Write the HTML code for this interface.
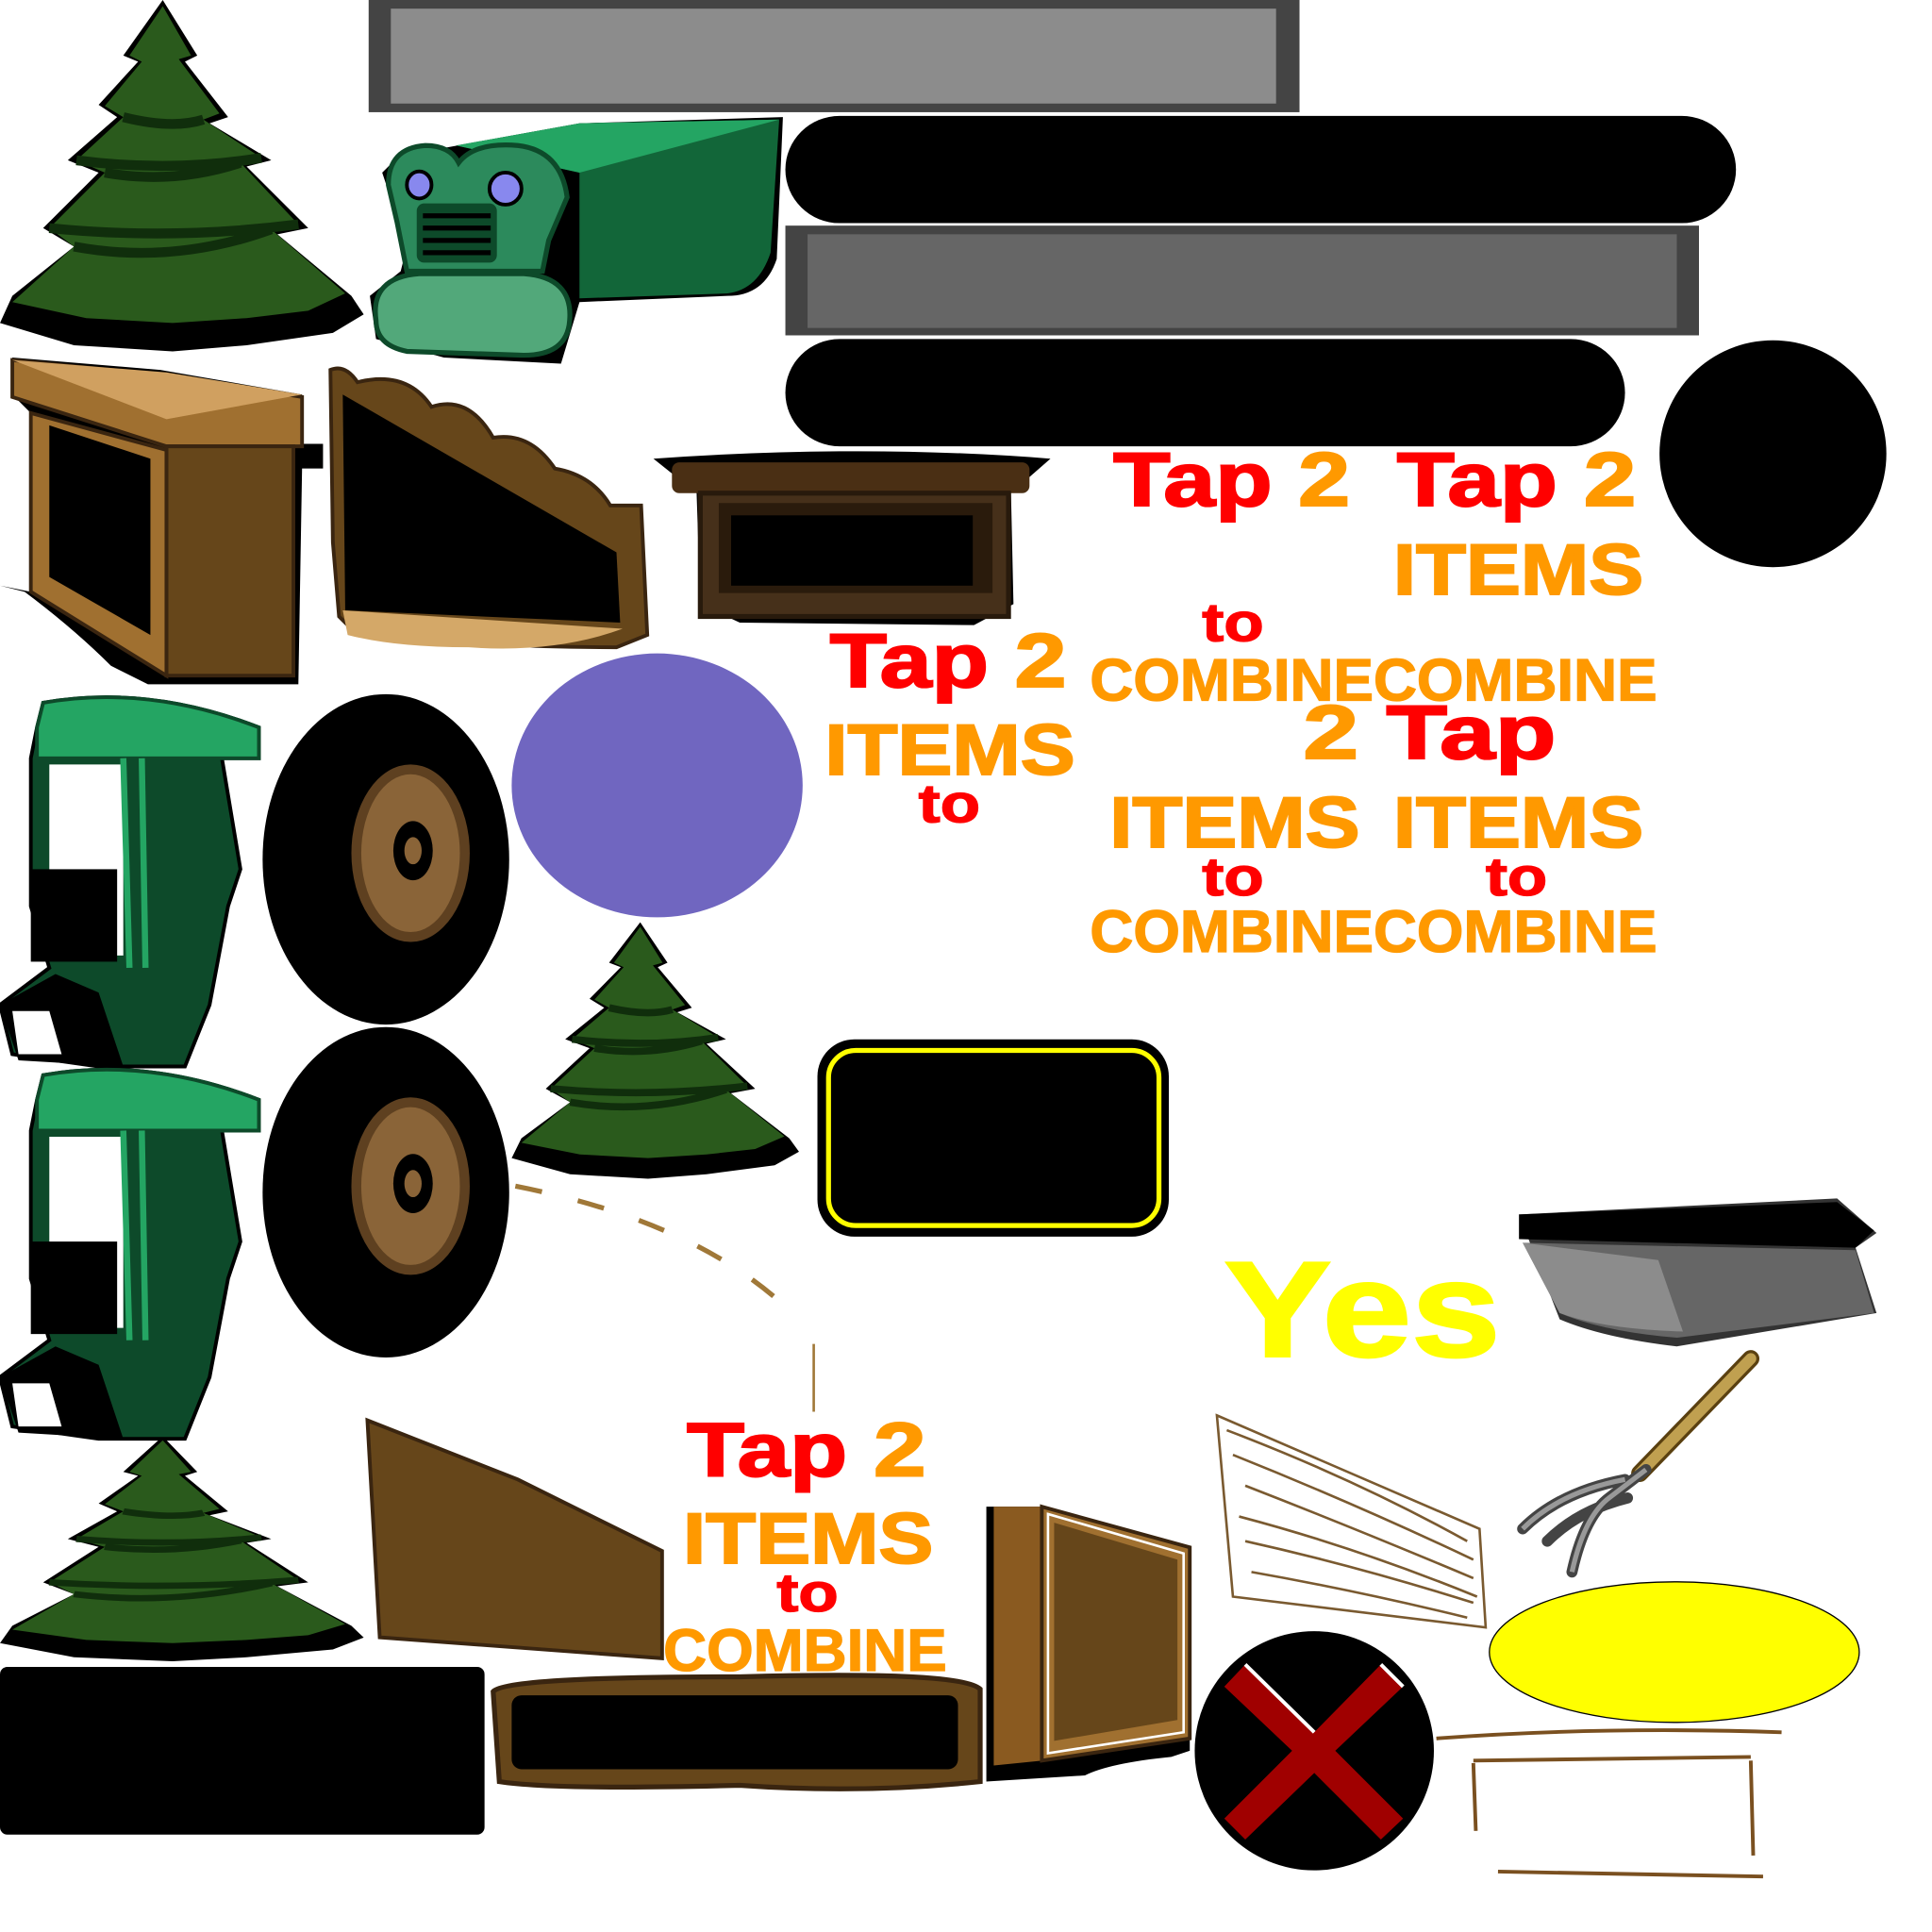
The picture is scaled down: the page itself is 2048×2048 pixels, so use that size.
<!DOCTYPE html>
<html><head><meta charset="utf-8"><style>
html,body{margin:0;padding:0;background:#fff}
svg{display:block}
text{font-family:"Liberation Sans",Arial,sans-serif;font-weight:bold}
</style></head><body>
<svg width="2048" height="2048" viewBox="0 0 1567 1567" xmlns="http://www.w3.org/2000/svg">
<defs>
<g id="tree">
<path d="M132,0 L160,45 L150,50 L185,95 L170,100 L220,130 L200,135 L250,185 L225,190 L285,240 L295,255 L270,270 L200,280 L140,285 L60,280 L0,262 L10,240 L60,200 L35,185 L80,140 L55,130 L95,95 L80,85 L112,50 L100,45 Z" fill="#000"/>
<path d="M132,5 L155,45 L145,48 L178,92 L165,97 L212,128 L195,132 L242,182 L220,186 L280,238 L250,252 L200,258 L140,262 L70,258 L10,245 L60,200 L40,185 L85,140 L62,130 L100,95 L85,86 L115,50 L105,45 Z" fill="#2a5a1c"/>
<path d="M60,200 Q140,215 220,186 M85,140 Q140,150 195,132 M100,95 Q140,105 165,97 M40,185 Q140,195 242,182 M62,130 Q140,140 212,128" stroke="#102e0c" stroke-width="8" fill="none"/>
</g>
<g id="cab">
<path d="M35,5 Q120,-10 210,25 L210,50 L180,50 L195,140 L185,170 L170,250 L150,300 L80,300 L10,290 L0,250 L40,220 L25,170 L25,50 L30,25 Z" fill="#0d4a2a" stroke="#000" stroke-width="3"/>
<path d="M35,5 Q120,-10 210,25 L210,50 L30,50 L30,25 Z" fill="#24a563" stroke="#0d4a2a" stroke-width="3"/>
<path d="M40,55 L100,55 L100,140 L40,140 Z M40,140 L100,140 L100,210 L40,210 Z" fill="#fff"/>
<rect x="25" y="140" width="70" height="75" fill="#000"/>
<path d="M0,250 L45,225 L80,240 L100,300 L15,295 Z" fill="#000"/>
<path d="M10,255 L40,255 L50,290 L15,290 Z" fill="#fff"/>
<path d="M100,50 L105,220 M115,50 L118,220" stroke="#24a563" stroke-width="5"/>
</g>
<g id="wheel">
<ellipse cx="0" cy="0" rx="100" ry="134" fill="#000"/>
<ellipse cx="20" cy="-5" rx="48" ry="72" fill="#5e4020"/>
<ellipse cx="20" cy="-5" rx="40" ry="64" fill="#8a6438"/>
<ellipse cx="22" cy="-7" rx="16" ry="24" fill="#000"/>
<ellipse cx="22" cy="-7" rx="7" ry="11" fill="#8a6438"/>
</g>
</defs>

<rect x="299" y="0" width="755" height="91" fill="#444"/>
<rect x="317" y="7" width="718" height="77" fill="#8c8c8c"/>
<rect x="637" y="94" width="771" height="87" rx="44" fill="#000"/>
<rect x="637" y="183" width="741" height="89" fill="#444"/>
<rect x="655" y="190" width="705" height="76" fill="#666"/>
<rect x="637" y="275" width="681" height="87" rx="44" fill="#000"/>
<ellipse cx="1438" cy="368" rx="92" ry="92" fill="#000"/>

<use href="#tree" x="0" y="0"/>
<g transform="translate(415,748) scale(0.79,0.73)"><use href="#tree"/></g>
<g transform="translate(0,1165) scale(1,0.64)"><use href="#tree"/></g>

<path d="M360,120 L470,100 L635,95 L630,210 Q620,240 590,240 L470,245 L455,295 L360,290 L305,275 L300,240 L325,220 L330,200 L320,170 L310,140 L330,120 Z" fill="#000"/>
<path d="M370,118 L470,100 L632,97 L625,205 Q615,235 590,238 L470,242 L470,140 Z" fill="#126639"/>
<path d="M370,118 L470,100 L632,97 L470,140 Z" fill="#24a563"/>
<path d="M315,150 Q315,120 345,118 Q365,118 372,132 Q385,115 420,118 Q455,122 460,160 L445,195 L440,220 L330,220 L322,180 Z" fill="#2c8a5c" stroke="#0d4a2a" stroke-width="4"/>
<ellipse cx="340" cy="150" rx="10" ry="11" fill="#8888ee" stroke="#000" stroke-width="3"/>
<ellipse cx="410" cy="153" rx="13" ry="13" fill="#8888ee" stroke="#000" stroke-width="3"/>
<rect x="338" y="165" width="65" height="48" rx="6" fill="#0d4a2a"/>
<path d="M343,175 H398 M343,185 H398 M343,195 H398 M343,205 H398" stroke="#000" stroke-width="4"/>
<path d="M305,260 Q300,225 340,222 L425,222 Q465,225 462,260 Q460,290 420,288 L330,285 Q305,280 305,260 Z" fill="#52a87a" stroke="#0d4a2a" stroke-width="4"/>

<path d="M10,290 L130,300 L245,320 L245,360 L262,360 L262,380 L245,380 L242,555 L120,555 L90,540 Q60,510 20,480 L0,475 L25,480 L25,335 L10,320 Z" fill="#000"/>
<path d="M10,292 L140,305 L245,322 L245,362 L135,362 L10,322 Z" fill="#a07030" stroke="#3a2510" stroke-width="3"/>
<path d="M10,292 L135,302 L245,320 L135,340 Z" fill="#d0a060"/>
<path d="M135,362 L238,362 L238,548 L135,548 Z" fill="#66461a" stroke="#3a2510" stroke-width="3"/>
<path d="M25,335 L135,365 L135,548 L25,480 Z" fill="#a07030" stroke="#3a2510" stroke-width="3"/>
<path d="M40,345 L122,372 L122,515 L40,468 Z" fill="#000"/>

<path d="M268,300 Q280,295 290,310 Q330,300 350,330 Q380,320 400,355 Q430,350 450,380 Q480,385 495,410 L520,410 L525,515 L500,525 Q400,525 290,515 L275,500 L270,440 Z" fill="#66461a" stroke="#3a2510" stroke-width="3"/>
<path d="M278,320 L500,448 L503,505 L280,495 Z" fill="#000"/>
<path d="M278,495 L505,510 Q450,530 380,525 Q320,525 282,515 Z" fill="#d4a868"/>

<path d="M530,372 Q700,360 852,372 L820,400 L822,490 L790,507 L600,505 L568,490 L565,400 Z" fill="#000"/>
<rect x="545" y="375" width="290" height="25" rx="6" fill="#4a2f14"/>
<rect x="568" y="400" width="250" height="100" fill="#46301a" stroke="#281a0c" stroke-width="4"/>
<rect x="583" y="408" width="222" height="73" fill="#2a1b0c"/>
<rect x="593" y="418" width="196" height="57" fill="#000"/>

<ellipse cx="533" cy="637" rx="118" ry="107" fill="#7066c0"/>

<g transform="translate(0,565)"><use href="#cab"/></g>
<g transform="translate(0,867)"><use href="#cab"/></g>
<g transform="translate(313,697)"><use href="#wheel"/></g>
<g transform="translate(313,967)"><use href="#wheel"/></g>

<path d="M418,962 Q560,990 635,1058" stroke="#a07838" stroke-width="4" fill="none" stroke-dasharray="22,30"/>
<path d="M660,1090 L660,1145" stroke="#a07838" stroke-width="2"/>

<rect x="663" y="843" width="285" height="160" rx="30" fill="#000"/>
<rect x="672" y="852" width="268" height="142" rx="22" fill="none" stroke="#ffff00" stroke-width="4"/>

<g font-size="62" stroke-width="1.5" lengthAdjust="spacingAndGlyphs">
<text x="903" y="410" textLength="192" lengthAdjust="spacingAndGlyphs"><tspan fill="#ff0000" stroke="#ff0000">Tap</tspan><tspan fill="#ff9900" stroke="#ff9900"> 2</tspan></text>
<text x="1133" y="410" textLength="194" lengthAdjust="spacingAndGlyphs"><tspan fill="#ff0000" stroke="#ff0000">Tap</tspan><tspan fill="#ff9900" stroke="#ff9900"> 2</tspan></text>
<text x="673" y="557" textLength="192" lengthAdjust="spacingAndGlyphs"><tspan fill="#ff0000" stroke="#ff0000">Tap</tspan><tspan fill="#ff9900" stroke="#ff9900"> 2</tspan></text>
<text x="1057" y="615" textLength="205" lengthAdjust="spacingAndGlyphs"><tspan fill="#ff9900" stroke="#ff9900">2 </tspan><tspan fill="#ff0000" stroke="#ff0000">Tap</tspan></text>
<text x="557" y="1197" textLength="194" lengthAdjust="spacingAndGlyphs"><tspan fill="#ff0000" stroke="#ff0000">Tap</tspan><tspan fill="#ff9900" stroke="#ff9900"> 2</tspan></text>
</g>
<g font-size="58" fill="#ff9900" stroke="#ff9900" stroke-width="1.5">
<text x="1130" y="482" textLength="203" lengthAdjust="spacingAndGlyphs">ITEMS</text>
<text x="669" y="628" textLength="203" lengthAdjust="spacingAndGlyphs">ITEMS</text>
<text x="900" y="687" textLength="203" lengthAdjust="spacingAndGlyphs">ITEMS</text>
<text x="1130" y="687" textLength="203" lengthAdjust="spacingAndGlyphs">ITEMS</text>
<text x="554" y="1268" textLength="203" lengthAdjust="spacingAndGlyphs">ITEMS</text>
</g>
<g font-size="44" fill="#ff0000" stroke="#ff0000" stroke-width="1">
<text x="975" y="520" textLength="50" lengthAdjust="spacingAndGlyphs">to</text>
<text x="745" y="667" textLength="50" lengthAdjust="spacingAndGlyphs">to</text>
<text x="975" y="726" textLength="50" lengthAdjust="spacingAndGlyphs">to</text>
<text x="1205" y="726" textLength="50" lengthAdjust="spacingAndGlyphs">to</text>
<text x="630" y="1307" textLength="50" lengthAdjust="spacingAndGlyphs">to</text>
</g>
<g font-size="48" fill="#ff9900" stroke="#ff9900" stroke-width="1">
<text x="884" y="568" textLength="460" lengthAdjust="spacingAndGlyphs">COMBINECOMBINE</text>
<text x="884" y="772" textLength="460" lengthAdjust="spacingAndGlyphs">COMBINECOMBINE</text>
<text x="538" y="1355" textLength="230" lengthAdjust="spacingAndGlyphs">COMBINE</text>
</g>
<text x="993" y="1100" font-size="110" fill="#ffff00" stroke="#ffff00" stroke-width="2" textLength="224" lengthAdjust="spacingAndGlyphs">Yes</text>

<path d="M1232,985 L1490,972 L1522,1000 L1505,1012 L1522,1065 L1360,1092 Q1300,1085 1265,1070 Z" fill="#333"/>
<path d="M1232,985 L1490,975 L1520,998 L1505,1012 L1232,1005 Z" fill="#000"/>
<path d="M1235,1008 L1505,1014 L1520,1065 L1360,1085 Q1300,1080 1265,1065 Z" fill="#666"/>
<path d="M1235,1008 L1345,1022 L1365,1080 Q1300,1078 1265,1065 Z" fill="#8c8c8c"/>

<path d="M1420,1102 L1330,1195" stroke="#5a4010" stroke-width="14" stroke-linecap="round"/>
<path d="M1420,1102 L1330,1195" stroke="#c0a050" stroke-width="9" stroke-linecap="round"/>
<path d="M1335,1192 L1305,1215 Q1285,1230 1275,1275 M1318,1200 Q1265,1210 1235,1240 M1320,1215 Q1280,1225 1255,1250" stroke="#444" stroke-width="9" fill="none" stroke-linecap="round"/>
<path d="M1335,1192 L1305,1215 Q1285,1230 1275,1275 M1318,1200 Q1265,1210 1235,1240" stroke="#999" stroke-width="4" fill="none"/>

<g stroke="#7a5a30" stroke-width="2" fill="none">
<path d="M987,1148 L1200,1240 L1205,1320 L1000,1295 Z"/>
<path d="M995,1160 Q1100,1200 1190,1250 M1000,1180 Q1100,1220 1195,1265 M1010,1205 Q1100,1240 1195,1280 M1005,1230 Q1100,1255 1198,1295 M1010,1250 Q1100,1270 1195,1300 M1015,1275 Q1100,1290 1190,1312"/>
</g>

<ellipse cx="1358" cy="1340" rx="150" ry="57" fill="#ffff00" stroke="#000" stroke-width="1"/>

<ellipse cx="1066" cy="1420" rx="97" ry="97" fill="#000"/>
<path d="M1010,1350 L1066,1405 L1120,1350 L1138,1368 L1083,1420 L1138,1475 L1120,1492 L1066,1438 L1010,1492 L993,1475 L1048,1420 L993,1368 Z" fill="#a00000"/>
<path d="M1010,1350 L1066,1405 M1120,1350 L1138,1368" stroke="#fff" stroke-width="3" fill="none"/>

<g stroke="#7a5020" stroke-width="3" fill="none">
<path d="M1165,1410 Q1300,1400 1445,1405"/>
<path d="M1195,1428 L1420,1425 M1195,1430 L1197,1485 M1420,1428 L1422,1505 M1215,1518 L1430,1522"/>
</g>

<path d="M298,1152 L420,1200 L537,1258 L537,1345 L308,1328 Z" fill="#66461a" stroke="#3a2510" stroke-width="3"/>

<rect x="0" y="1352" width="393" height="136" rx="6" fill="#000"/>

<path d="M400,1372 Q410,1360 600,1360 Q780,1355 795,1370 L795,1445 Q700,1455 600,1448 Q450,1452 405,1445 Z" fill="#66461a" stroke="#3a2510" stroke-width="4"/>
<rect x="415" y="1375" width="362" height="60" rx="8" fill="#000"/>

<path d="M800,1222 L845,1222 L965,1255 L965,1420 L950,1425 Q900,1430 880,1440 L800,1445 Z" fill="#000"/>
<path d="M806,1222 L845,1222 L845,1428 L806,1432 Z" fill="#8a5a20"/>
<path d="M845,1222 L965,1255 L965,1410 L845,1428 Z" fill="#a07030" stroke="#3a2510" stroke-width="3"/>
<path d="M855,1235 L955,1265 L955,1395 L855,1412 Z" fill="#66461a"/>
<path d="M850,1228 L960,1260 L960,1405 L850,1422 Z" fill="none" stroke="#fff" stroke-width="2"/>
</svg>
</body></html>
